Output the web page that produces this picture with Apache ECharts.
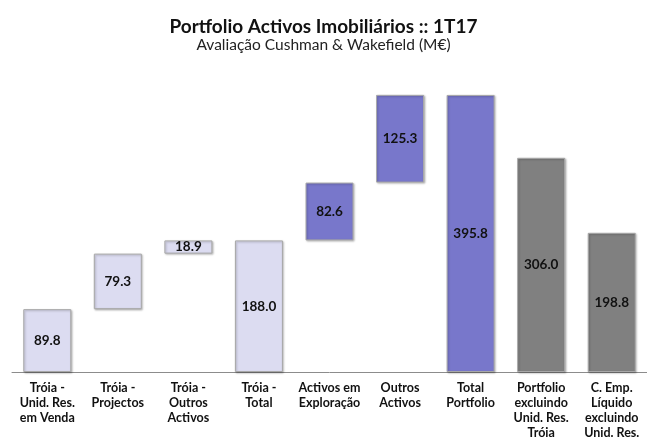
<!DOCTYPE html>
<html>
<head>
  <meta charset="utf-8">
  <title>Portfolio Activos Imobiliários</title>
  <style>
    html, body, #main { width: 100%; height: 100%; margin: 0; padding: 0; background: #fff; }
  </style>
  <script src="https://cdn.jsdelivr.net/npm/echarts@6/dist/echarts.min.js"></script>
</head>
<body>
  <div id="main"></div>
  <script>
    // categories and values (M€)
    var categories = [
      'Tróia -\nUnid. Res.\nem Venda',
      'Tróia -\nProjectos',
      'Tróia -\nOutros\nActivos',
      'Tróia -\nTotal',
      'Activos em\nExploração',
      'Outros\nActivos',
      'Total\nPortfolio',
      'Portfolio\nexcluindo\nUnid. Res.\nTróia',
      'C. Emp.\nLíquido\nexcluindo\nUnid. Res.'
    ];
    var values = [89.8, 79.3, 18.9, 188.0, 82.6, 125.3, 395.8, 306.0, 198.8];
    // where each floating bar starts
    var offsets = [0, 89.8, 169.1, 0, 188.0, 270.6, 0, 0, 0];
    var colors = ['#dcdcf1', '#dcdcf1', '#dcdcf1', '#dcdcf1', '#7877cb', '#7877cb', '#7877cb', '#808080', '#808080'];

    var font = 'Lato, "Noto Sans", sans-serif';
    var myChart = echarts.init(document.getElementById('main'));
    myChart.setOption({
      backgroundColor: '#fff',
      animation: false,
      title: {
        text: 'Portfolio Activos Imobiliários :: 1T17',
        subtext: 'Avaliação Cushman & Wakefield (M€)',
        left: 'center',
        top: 12,
        itemGap: 1,
        textStyle: { fontFamily: font, fontSize: 19, fontWeight: 'bold', color: '#111' },
        subtextStyle: { fontFamily: font, fontSize: 15.5, color: '#222' }
      },
      grid: { left: 12, width: 641, top: 92, bottom: 65 },
      xAxis: {
        type: 'category',
        data: categories,
        axisLine: { lineStyle: { color: '#8c8c8c' } },
        axisTick: { length: 3, lineStyle: { color: '#8c8c8c' } },
        axisLabel: {
          interval: 0, margin: 8, lineHeight: 15,
          fontFamily: font, fontSize: 12.5, fontWeight: 'bold', color: '#111'
        }
      },
      yAxis: { type: 'value', min: 0, max: 400, show: false },
      series: [
        {
          type: 'bar', stack: 'w', silent: true,
          itemStyle: { color: 'transparent' },
          data: offsets
        },
        {
          type: 'bar', stack: 'w', barWidth: 48,
          data: values.map(function (v, i) {
            return { value: v, itemStyle: { color: colors[i] } };
          }),
          itemStyle: {
            borderColor: '#a8a8a8', borderWidth: 1,
            shadowBlur: 2, shadowOffsetX: 1, shadowOffsetY: 1, shadowColor: 'rgba(0,0,0,0.25)'
          },
          label: {
            show: true, position: 'inside',
            fontFamily: font, fontSize: 13.5, fontWeight: 'bold', color: '#111',
            formatter: function (p) { return p.value.toFixed(1); }
          }
        }
      ]
    });
  </script>
</body>
</html>
